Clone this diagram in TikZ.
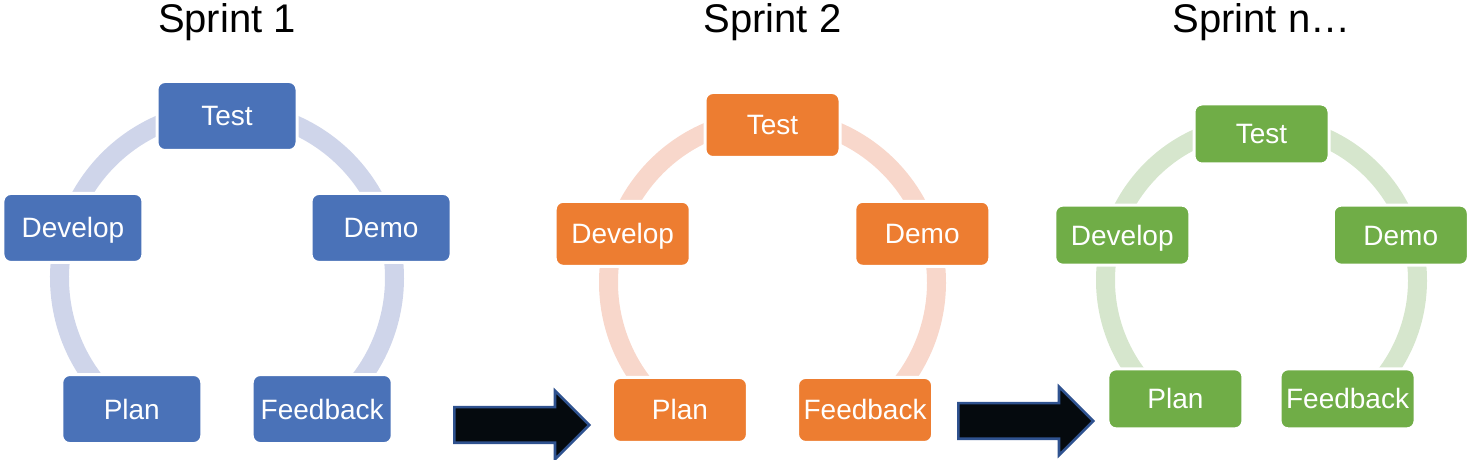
\documentclass[tikz,border=0pt]{standalone}
\usepackage{fontspec}
\setmainfont{Liberation Sans}
\usetikzlibrary{shapes.arrows}
\usetikzlibrary{backgrounds}
\usetikzlibrary{calc}

\definecolor{sprintblue}{HTML}{4A72B8}
\definecolor{sprintorange}{HTML}{ED7D31}
\definecolor{sprintgreen}{HTML}{70AD47}
\definecolor{ringblue}{HTML}{CFD5EA}
\definecolor{ringorange}{HTML}{F8D7CB}
\definecolor{ringgreen}{HTML}{D6E6CD}
\definecolor{arrowfill}{HTML}{050A0E}
\definecolor{arrowedge}{HTML}{2F528F}

\begin{document}
\begin{tikzpicture}[x=0.5pt, y=0.5pt,
    stage/.style={rectangle, rounded corners=4pt, text=white, draw=white, line width=1.5pt,
      inner sep=0pt, font=\fontsize{14}{16}\selectfont, text height=10pt, text depth=0pt},
    ring/.style={line width=9.5pt},
    title/.style={font=\fontsize{20}{24}\selectfont, anchor=base},
    bigarrow/.style={single arrow, fill=arrowfill, draw=arrowedge, line width=1.3pt,
      inner xsep=0pt, inner ysep=8.25pt, text height=0pt, text depth=0pt,
      single arrow head extend=8.25pt, minimum height=67.5pt, anchor=tail}]
      \useasboundingbox (0,0) rectangle (1472,460);
      % One sprint per entry: index / centre / radius / ring radius / box size / colours / heading
      \foreach \i/\cx/\cy/\r/\rr/\w/\h/\boxcol/\ringcol/\ttl in {
          1/227/182/162/167.5/140/69/sprintblue/ringblue/Sprint 1,
          2/772.5/177.5/157.5/164/135/65/sprintorange/ringorange/Sprint 2,
          3/1261.5/179.6/146.4/156/135/60/sprintgreen/ringgreen/Sprint n…} {
        % Centre of the cycle
        \coordinate (c\i) at (\cx, \cy);
        % Heading above the cycle
        \node[title] (title\i) at (\cx, 427) {\ttl};
        % Five stages around the cycle
        \foreach \nm/\ang/\txt in {test/90/Test, dev/162/Develop, plan/234/Plan,
            feed/306/Feedback, demo/18/Demo} {
          \node[stage, fill=\boxcol, minimum width=\w*0.5pt, minimum height=\h*0.5pt]
            (\nm\i) at ([shift={(\ang:\r)}] c\i) {\txt};
        }
        % Ring behind the stages, open between Feedback and Plan
        \begin{scope}[on background layer]
          \draw[ring, draw=\ringcol] ([shift={(234:\rr)}] c\i)
            arc[start angle=234, end angle=-54, radius=\rr];
        \end{scope}
      }
      % Arrows from one sprint to the next
      \node[bigarrow] (next1) at (453, 35) {};
      \node[bigarrow] (next2) at (957, 39) {};
    \end{tikzpicture}
\end{document}
